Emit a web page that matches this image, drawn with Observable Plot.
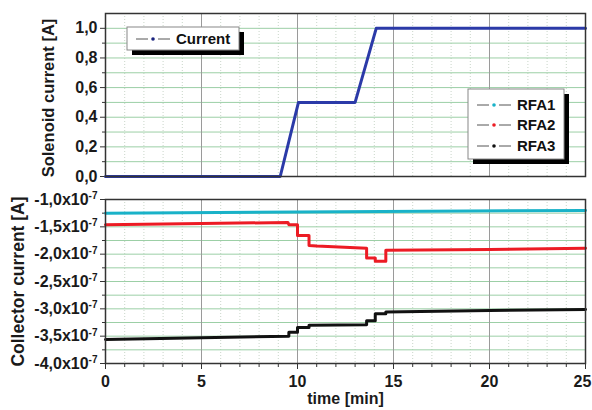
<!DOCTYPE html>
<html><head><meta charset="utf-8">
<script src="https://cdn.jsdelivr.net/npm/d3@7"></script>
<script src="https://cdn.jsdelivr.net/npm/@observablehq/plot@0.6"></script>
<style>
body{margin:0;background:#fff;}
#chart{position:relative;width:592px;height:410px;overflow:hidden;font-family:"Liberation Sans",Arial,sans-serif;}
#chart svg{display:block;}
</style>
</head><body><div id="chart"></div>
<script>
// ---- data (time in min) ----
const solenoidTime    = [0, 9.1, 10.05, 13.0, 14.1, 25];
const solenoidCurrent = [0, 0, 0.5, 0.5, 1.0, 1.0];

// collector currents in units of 1e-7 A
const rfa1Time    = [0, 10, 25];
const rfa1Current = [-1.25, -1.23, -1.20];

const rfa2Time    = [0, 5, 9.5, 9.55, 10.0, 10.0, 10.6, 10.6, 11.0, 13.6, 13.6, 14.05, 14.05, 14.6, 14.6, 20, 25];
const rfa2Current = [-1.46, -1.44, -1.42, -1.46, -1.46, -1.66, -1.66, -1.84, -1.85, -1.89, -2.07, -2.07, -2.13, -2.13, -1.93, -1.915, -1.89];

const rfa3Time    = [0, 5, 9.55, 9.55, 10.0, 10.0, 10.6, 10.6, 13.6, 13.6, 14.05, 14.05, 14.6, 14.6, 20, 25];
const rfa3Current = [-3.56, -3.53, -3.50, -3.43, -3.43, -3.34, -3.34, -3.30, -3.29, -3.22, -3.22, -3.09, -3.09, -3.06, -3.03, -3.01];

const xTicks       = [0, 5, 10, 15, 20, 25];
const topYTicks    = [0, 0.2, 0.4, 0.6, 0.8, 1.0];
const bottomYTicks = [-4, -3.5, -3, -2.5, -2, -1.5, -1];
const seriesNames  = ["RFA1", "RFA2", "RFA3"];
const seriesColors = ["#19b2c8", "#ec1c24", "#111111"];
const topLegendName = "Current";
const topColor = "#2b3aa8";

// ---- derived tables ----
const solenoid = solenoidTime.map((t, i) => ({t, v: solenoidCurrent[i]}));
const series = [
  rfa1Time.map((t, i) => ({t, v: rfa1Current[i], s: "RFA1"})),
  rfa2Time.map((t, i) => ({t, v: rfa2Current[i], s: "RFA2"})),
  rfa3Time.map((t, i) => ({t, v: rfa3Current[i], s: "RFA3"}))
];
const xMinor = d3.range(1, 25, 1).filter(d => d % 5 !== 0);
const xMajorGrid = xTicks.slice(1, -1);
const topGrid = d3.range(0.1, 1.1, 0.1);
const topMinorTicks = d3.range(0.1, 1.0, 0.2);
const bottomGrid = d3.range(-3.75, -1, 0.25);
const bottomMinorTicks = d3.range(-3.75, -1, 0.5);

const font = '"Liberation Sans", Arial, sans-serif';
const baseStyle = {fontFamily: font, fontSize: "16px", fontWeight: "bold", color: "#1a1a1a", background: "transparent", overflow: "visible"};

const topPlot = Plot.plot({
  width: 592, height: 190, marginLeft: 105, marginRight: 7, marginTop: 13, marginBottom: 14,
  style: baseStyle,
  x: {domain: [0, 25], axis: null},
  y: {domain: [0, 1.1]},
  marks: [
    Plot.ruleX(xMinor, {stroke: "#c9d6c9", strokeDasharray: "1,2"}),
    Plot.ruleY(topGrid, {stroke: "#9ccfa6", strokeWidth: 1}),
    Plot.ruleX(xMajorGrid, {stroke: "#9a9a9a"}),
    Plot.axisY(topYTicks, {tickSize: 5, tickPadding: 3, label: null, tickFormat: d => d.toFixed(1).replace(".", ","), fontSize: 16, fontWeight: "bold", stroke: "#333"}),
    Plot.axisY(topMinorTicks, {tickSize: 3, label: null, tickFormat: () => "", stroke: "#333"}),
    Plot.line(solenoid, {x: "t", y: "v", stroke: topColor, strokeWidth: 3}),
    Plot.frame({stroke: "#333", strokeWidth: 1.5}),
    Plot.text(["Solenoid current [A]"], {text: d => d, frameAnchor: "left", textAnchor: "middle", dx: -57, dy: 3, rotate: -90, fontSize: 16.5, fontWeight: "bold"})
  ]
});

const bottomPlot = Plot.plot({
  width: 592, height: 220, marginLeft: 105, marginRight: 7, marginTop: 9, marginBottom: 47,
  style: baseStyle,
  x: {domain: [0, 25]},
  y: {domain: [-4, -1]},
  marks: [
    Plot.ruleX(xMinor, {stroke: "#c9d6c9", strokeDasharray: "1,2"}),
    Plot.ruleY(bottomGrid, {stroke: "#9ccfa6", strokeWidth: 1}),
    Plot.ruleX(xMajorGrid, {stroke: "#9a9a9a"}),
    Plot.axisY(bottomYTicks, {tickSize: 5, tickPadding: 3, label: null, tickFormat: d => d.toFixed(1).replace(".", ",") + "x10", fontSize: 16, fontWeight: "bold", stroke: "#333"}),
    Plot.axisY(bottomMinorTicks, {tickSize: 3, label: null, tickFormat: () => "", stroke: "#333"}),
    Plot.axisX(xTicks, {tickSize: 6, tickPadding: 6, label: null, tickFormat: d => String(d), fontSize: 16, fontWeight: "bold", stroke: "#333"}),
    Plot.axisX(xMinor, {tickSize: 4, label: null, tickFormat: () => "", stroke: "#333"}),
    ...series.map((data, i) => Plot.line(data, {x: "t", y: "v", stroke: seriesColors[i], strokeWidth: 3})),
    Plot.frame({stroke: "#333", strokeWidth: 1.5}),
    Plot.text(["Collector current [A]"], {text: d => d, frameAnchor: "left", textAnchor: "middle", dx: -87, rotate: -90, fontSize: 17.5, fontWeight: "bold"}),
    Plot.text(["time [min]"], {text: d => d, frameAnchor: "bottom", textAnchor: "middle", dy: 40, fontSize: 16, fontWeight: "bold"})
  ]
});

const chart = document.getElementById("chart");
chart.append(topPlot, bottomPlot);

// shift last x tick label slightly so it stays inside the page
d3.select(bottomPlot).selectAll('g[aria-label="x-axis tick label"] text').filter(function() { return this.textContent === "25"; }).attr("dx", -3);

// superscript exponents on collector axis
d3.select(bottomPlot).selectAll('g[aria-label="y-axis tick label"] text').each(function() {
  if (!this.textContent) return;
  d3.select(this).append("tspan").attr("dy", "-0.55em").attr("font-size", "10px").text("-7");
});

// ---- legends ----
function legend(svg, x, y, w, h, names, colors, rowY) {
  const g = d3.select(svg).append("g").attr("font-family", font).attr("font-weight", "bold").attr("font-size", 15).attr("text-anchor", "start");
  g.append("rect").attr("x", x + 5).attr("y", y + 5).attr("width", w).attr("height", h).attr("fill", "#000");
  g.append("rect").attr("x", x).attr("y", y).attr("width", w).attr("height", h).attr("fill", "#fff").attr("stroke", "#888").attr("stroke-width", 1);
  names.forEach((n, i) => {
    const cy = rowY[i];
    g.append("line").attr("x1", x + 9).attr("x2", x + 21).attr("y1", cy).attr("y2", cy).attr("stroke", "#555").attr("stroke-width", 1);
    g.append("line").attr("x1", x + 31).attr("x2", x + 43).attr("y1", cy).attr("y2", cy).attr("stroke", "#555").attr("stroke-width", 1);
    g.append("circle").attr("cx", x + 26).attr("cy", cy).attr("r", 1.8).attr("fill", colors[i]);
    g.append("text").attr("x", x + 49).attr("y", cy).attr("dy", "0.35em").attr("text-anchor", "start").attr("fill", "#111").text(n);
  });
}
legend(topPlot, 127, 27, 112, 23, [topLegendName], ["#1a237e"], [39]);
legend(topPlot, 468, 89, 96, 70, seriesNames, seriesColors, [105, 125, 146]);
</script>
</body></html>
